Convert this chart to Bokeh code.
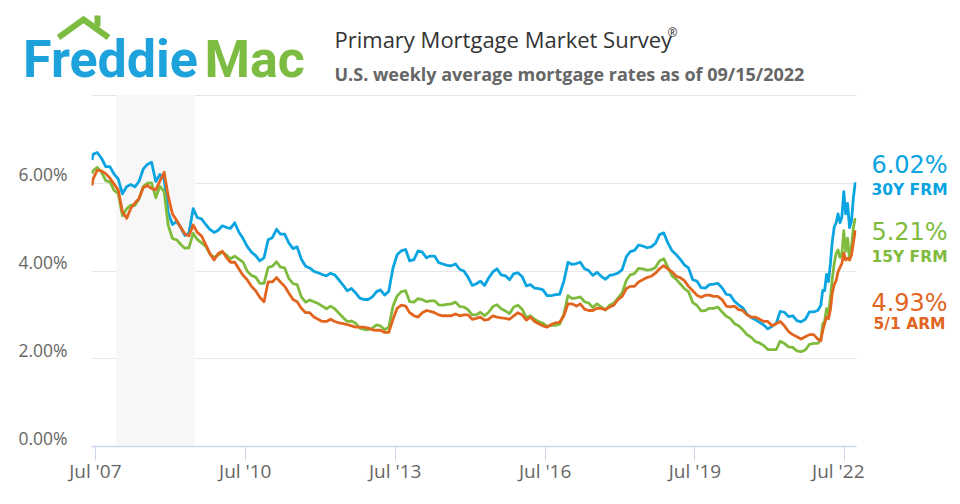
import pandas as pd
from bokeh.plotting import figure
from bokeh.models import (Range1d, BoxAnnotation, FixedTicker, LinearAxis,
                          ColumnDataSource, Label, PrintfTickFormatter)
from bokeh.layouts import column, row
from bokeh.embed import file_html
from bokeh.resources import INLINE

# ---------------- data ----------------
first_week = ["2007-06-07"]
monthly_first = "2007-06-01"
monthly_last = "2021-12-01"
dates_2022 = ["2022-01-06", "2022-01-20", "2022-02-03", "2022-02-17", "2022-03-03",
              "2022-03-17", "2022-03-31", "2022-04-14", "2022-04-28", "2022-05-12",
              "2022-05-26", "2022-06-09", "2022-06-23", "2022-07-07", "2022-07-21",
              "2022-08-04", "2022-08-18", "2022-09-01", "2022-09-15"]

rate_30y = [6.53,
    6.66, 6.70, 6.57, 6.38, 6.38, 6.21, 6.10,
    5.76, 5.92, 5.97, 5.92, 6.04, 6.32, 6.43, 6.48, 6.04, 6.20, 6.09, 5.33,
    5.06, 5.13, 5.00, 4.81, 4.86, 5.42, 5.22, 5.19, 5.06, 4.95, 4.88, 4.93,
    5.03, 4.99, 4.97, 5.10, 4.89, 4.74, 4.56, 4.43, 4.35, 4.23, 4.30, 4.71,
    4.76, 4.95, 4.84, 4.84, 4.64, 4.51, 4.55, 4.27, 4.11, 4.07, 3.99, 3.96,
    3.92, 3.89, 3.95, 3.91, 3.80, 3.68, 3.55, 3.60, 3.50, 3.38, 3.35, 3.35,
    3.41, 3.53, 3.57, 3.45, 3.54, 4.07, 4.37, 4.46, 4.49, 4.23, 4.26, 4.46,
    4.43, 4.30, 4.34, 4.34, 4.19, 4.16, 4.13, 4.12, 4.16, 4.04, 4.00, 3.86,
    3.67, 3.71, 3.77, 3.67, 3.84, 3.98, 4.05, 3.91, 3.89, 3.80, 3.94, 3.96,
    3.87, 3.66, 3.69, 3.61, 3.60, 3.57, 3.44, 3.44, 3.46, 3.47, 3.77, 4.20,
    4.15, 4.17, 4.20, 4.05, 4.01, 3.90, 3.97, 3.88, 3.81, 3.90, 3.92, 3.95,
    4.03, 4.33, 4.44, 4.47, 4.59, 4.57, 4.53, 4.55, 4.63, 4.83, 4.87, 4.64,
    4.46, 4.37, 4.27, 4.14, 4.07, 3.80, 3.77, 3.62, 3.61, 3.69, 3.70, 3.72,
    3.62, 3.47, 3.45, 3.31, 3.23, 3.16, 3.02, 2.94, 2.89, 2.83, 2.77, 2.68,
    2.74, 2.81, 3.08, 3.06, 2.96, 2.98, 2.87, 2.84, 2.90, 3.07, 3.07, 3.10,
    3.22, 3.56, 3.55, 3.92, 3.76, 4.16, 4.67, 5.00, 5.10, 5.30, 5.10, 5.23,
    5.81, 5.30, 5.54, 4.99, 5.13, 5.66, 6.02]

rate_15y = [6.22,
    6.29, 6.36, 6.26, 6.06, 6.03, 5.84, 5.77,
    5.26, 5.42, 5.50, 5.49, 5.64, 5.93, 6.00, 6.01, 5.67, 5.93, 5.81, 5.04,
    4.74, 4.71, 4.61, 4.52, 4.53, 4.86, 4.72, 4.64, 4.56, 4.39, 4.31, 4.36,
    4.43, 4.36, 4.28, 4.34, 4.27, 4.20, 4.00, 3.90, 3.86, 3.72, 3.72, 4.08,
    4.11, 4.21, 4.09, 4.07, 3.83, 3.71, 3.69, 3.41, 3.29, 3.34, 3.30, 3.26,
    3.20, 3.14, 3.20, 3.14, 3.04, 2.94, 2.85, 2.86, 2.81, 2.70, 2.67, 2.66,
    2.70, 2.77, 2.75, 2.66, 2.72, 3.20, 3.43, 3.53, 3.55, 3.30, 3.29, 3.37,
    3.35, 3.30, 3.32, 3.32, 3.23, 3.22, 3.24, 3.25, 3.29, 3.19, 3.18, 3.12,
    3.00, 3.00, 3.06, 2.98, 3.06, 3.19, 3.23, 3.14, 3.09, 3.03, 3.18, 3.22,
    3.13, 2.94, 2.98, 2.90, 2.85, 2.81, 2.74, 2.76, 2.76, 2.79, 3.02, 3.44,
    3.37, 3.39, 3.41, 3.30, 3.27, 3.17, 3.25, 3.18, 3.11, 3.22, 3.27, 3.38,
    3.50, 3.79, 3.91, 3.94, 4.06, 4.05, 4.02, 4.03, 4.08, 4.23, 4.28, 4.09,
    3.89, 3.81, 3.71, 3.60, 3.53, 3.28, 3.22, 3.09, 3.10, 3.15, 3.15, 3.18,
    3.07, 2.97, 2.92, 2.80, 2.75, 2.66, 2.55, 2.49, 2.39, 2.36, 2.30, 2.21,
    2.21, 2.21, 2.40, 2.35, 2.27, 2.26, 2.18, 2.16, 2.20, 2.33, 2.35, 2.35,
    2.43, 2.79, 2.86, 3.14, 3.01, 3.39, 3.83, 4.17, 4.40, 4.48, 4.31, 4.38,
    4.92, 4.45, 4.75, 4.26, 4.55, 4.98, 5.21]

rate_arm = [5.95,
    6.10, 6.30, 6.28, 6.22, 6.12, 5.98, 5.85,
    5.35, 5.20, 5.42, 5.55, 5.65, 5.90, 5.95, 5.88, 5.85, 6.05, 6.25, 5.70,
    5.30, 5.15, 5.00, 4.85, 4.80, 5.05, 4.88, 4.80, 4.60, 4.40, 4.25, 4.40,
    4.45, 4.30, 4.20, 4.20, 4.05, 3.90, 3.80, 3.65, 3.55, 3.40, 3.30, 3.75,
    3.75, 3.85, 3.75, 3.65, 3.50, 3.35, 3.30, 3.15, 3.05, 3.05, 2.95, 2.90,
    2.85, 2.85, 2.90, 2.85, 2.82, 2.80, 2.78, 2.75, 2.72, 2.72, 2.72, 2.70,
    2.66, 2.65, 2.65, 2.60, 2.60, 2.90, 3.15, 3.22, 3.20, 3.05, 2.98, 2.95,
    3.05, 3.10, 3.08, 3.05, 3.00, 2.98, 2.98, 2.98, 3.02, 2.98, 3.00, 3.00,
    2.90, 2.92, 2.95, 2.88, 2.90, 2.98, 2.95, 2.93, 2.92, 2.90, 2.98, 3.05,
    3.00, 2.88, 2.95, 2.85, 2.80, 2.75, 2.72, 2.78, 2.82, 2.83, 2.98, 3.25,
    3.25, 3.20, 3.25, 3.13, 3.10, 3.10, 3.15, 3.15, 3.12, 3.18, 3.22, 3.35,
    3.42, 3.60, 3.65, 3.65, 3.75, 3.80, 3.85, 3.88, 3.95, 4.05, 4.12, 4.05,
    3.98, 3.88, 3.85, 3.78, 3.65, 3.55, 3.45, 3.40, 3.45, 3.45, 3.42, 3.42,
    3.35, 3.20, 3.18, 3.20, 3.12, 3.10, 3.00, 2.95, 2.95, 2.90, 2.85, 2.85,
    2.75, 2.80, 2.85, 2.75, 2.62, 2.55, 2.50, 2.45, 2.50, 2.55, 2.55, 2.45,
    2.41, 2.64, 2.80, 2.95, 2.91, 3.11, 3.50, 3.69, 3.78, 3.98, 4.08, 4.17,
    4.41, 4.25, 4.29, 4.25, 4.36, 4.64, 4.93]

series_names = ["30Y FRM", "15Y FRM", "5/1 ARM"]
recession = ["2007-12-01", "2009-06-30"]
tick_years = [2007, 2010, 2013, 2016, 2019, 2022]
y_ticks = [0, 2, 4, 6]
grid_ticks = [0, 2, 4, 6, 8]

# ---------------- styling ----------------
C30, C15, CARM = "#0aa4e0", "#7fbb3d", "#e1651f"
LOGO_BLUE, LOGO_GREEN = "#1ea2dc", "#7cbc42"
FONT = "Open Sans"


def ms(d):
    return pd.Timestamp(d).value / 1e6


monthly = list(pd.date_range(monthly_first, monthly_last, freq="MS") + pd.Timedelta(days=14))
dates = [pd.Timestamp(d) for d in first_week] + monthly + [pd.Timestamp(d) for d in dates_2022]
src = ColumnDataSource(dict(date=dates, r30=rate_30y, r15=rate_15y, rarm=rate_arm))

# ---------------- header ----------------
W, HH, CH = 958, 90, 412
PW = 864
BT, BB = 4, 56            # chart borders (top / bottom)
FH = CH - BT - BB         # frame height
head = figure(width=W, height=HH, x_range=Range1d(0, W), y_range=Range1d(HH, 0),
              output_backend="svg", toolbar_location=None,
              min_border_left=0, min_border_right=0, min_border_top=0, min_border_bottom=0)
head.axis.visible = False
head.grid.visible = False
head.outline_line_color = None

head.line(x=[58, 83, 108], y=[37, 19, 37], line_width=6, line_color=LOGO_GREEN,
          line_join="miter", line_cap="butt")
head.quad(left=[94], right=[100], top=[15], bottom=[26], fill_color=LOGO_GREEN, line_color=None)
head.add_layout(Label(x=22.5, y=59, text="Freddie", text_font="Roboto", text_font_style="bold",
                      text_font_size="52px", text_color=LOGO_BLUE, text_baseline="middle"))
head.add_layout(Label(x=204, y=59, text="Mac", text_font="Roboto", text_font_style="bold",
                      text_font_size="52px", text_color=LOGO_GREEN, text_baseline="middle"))
head.add_layout(Label(x=334, y=38, text="Primary Mortgage Market Survey", text_font=FONT,
                      text_font_size="22px", text_color="#333333", text_baseline="middle"))
head.add_layout(Label(x=667, y=32, text="®", text_font=FONT,
                      text_font_size="12px", text_color="#333333", text_baseline="middle"))
head.add_layout(Label(x=334, y=73, text="U.S. weekly average mortgage rates as of 09/15/2022",
                      text_font=FONT, text_font_style="bold", text_font_size="18px",
                      text_color="#666666", text_baseline="middle"))

# ---------------- chart ----------------
YTOP = 8.023
p = figure(width=PW, height=CH, output_backend="svg", toolbar_location=None,
           x_axis_type="datetime",
           x_range=Range1d(ms("2007-06-03"), ms("2022-09-24")), y_range=Range1d(0, YTOP),
           min_border_left=91, min_border_right=8, min_border_top=BT, min_border_bottom=BB)
p.outline_line_color = None
p.xgrid.visible = False
p.ygrid.ticker = FixedTicker(ticks=grid_ticks)
p.ygrid.grid_line_color = "#e6e6e6"
p.ygrid.grid_line_width = 1
p.yaxis.visible = False

shift = 0.2
p.extra_y_ranges = {"lab": Range1d(-shift, YTOP - shift)}
yax = LinearAxis(y_range_name="lab", ticker=FixedTicker(ticks=y_ticks),
                 formatter=PrintfTickFormatter(format="%.2f%%"))
yax.axis_line_color = None
yax.major_tick_line_color = None
yax.minor_tick_line_color = None
yax.major_tick_out = 0
yax.major_tick_in = 0
yax.major_label_standoff = 24
yax.major_label_text_font = FONT
yax.major_label_text_font_size = "17.5px"
yax.major_label_text_color = "#666666"
p.add_layout(yax, "left")

xt = [ms(f"{y}-07-01") for y in tick_years]
p.xaxis.ticker = FixedTicker(ticks=xt)
p.xaxis.major_label_overrides = {t: f"Jul '{str(y)[2:]}" for t, y in zip(xt, tick_years)}
p.xaxis.axis_line_color = "#ccd6eb"
p.xaxis.axis_line_width = 1.5
p.xaxis.major_tick_line_color = "#ccd6eb"
p.xaxis.major_tick_out = 14
p.xaxis.major_tick_in = 0
p.xaxis.minor_tick_line_color = None
p.xaxis.major_label_standoff = -3
p.xaxis.major_label_text_font = FONT
p.xaxis.major_label_text_font_size = "19px"
p.xaxis.major_label_text_color = "#666666"

p.add_layout(BoxAnnotation(left=ms(recession[0]), right=ms(recession[1]),
                           fill_color="#f7f7f7", fill_alpha=1, line_color=None, level="underlay"))

for col, c in [("r30", C30), ("r15", C15), ("rarm", CARM)]:
    p.line(x="date", y=col, source=src, line_color=c, line_width=2.8, line_join="round")

# ---------------- end labels (frame aligned with chart frame) ----------------
SW = W - PW
side = figure(width=SW, height=CH, x_range=Range1d(0, SW), y_range=Range1d(FH, 0),
              output_backend="svg", toolbar_location=None,
              min_border_left=0, min_border_right=0, min_border_top=BT, min_border_bottom=BB)
side.axis.visible = False
side.grid.visible = False
side.outline_line_color = None
last_vals = [rate_30y[-1], rate_15y[-1], rate_arm[-1]]
pct_y = [70, 137, 208]
name_y = [95, 162, 229]
for v, name, c, y1, y2 in zip(last_vals, series_names, [C30, C15, CARM], pct_y, name_y):
    side.add_layout(Label(x=45, y=y1, text=f"{v:.2f}%", text_font="DejaVu Sans",
                          text_font_size="24px", text_color=c, text_align="center",
                          text_baseline="middle"))
    side.add_layout(Label(x=45, y=y2, text=name, text_font="DejaVu Sans",
                          text_font_style="bold", text_font_size="15.5px", text_color=c,
                          text_align="center", text_baseline="middle"))

layout = column(head, row(p, side))
open("out.html", "w").write(file_html(layout, INLINE))
